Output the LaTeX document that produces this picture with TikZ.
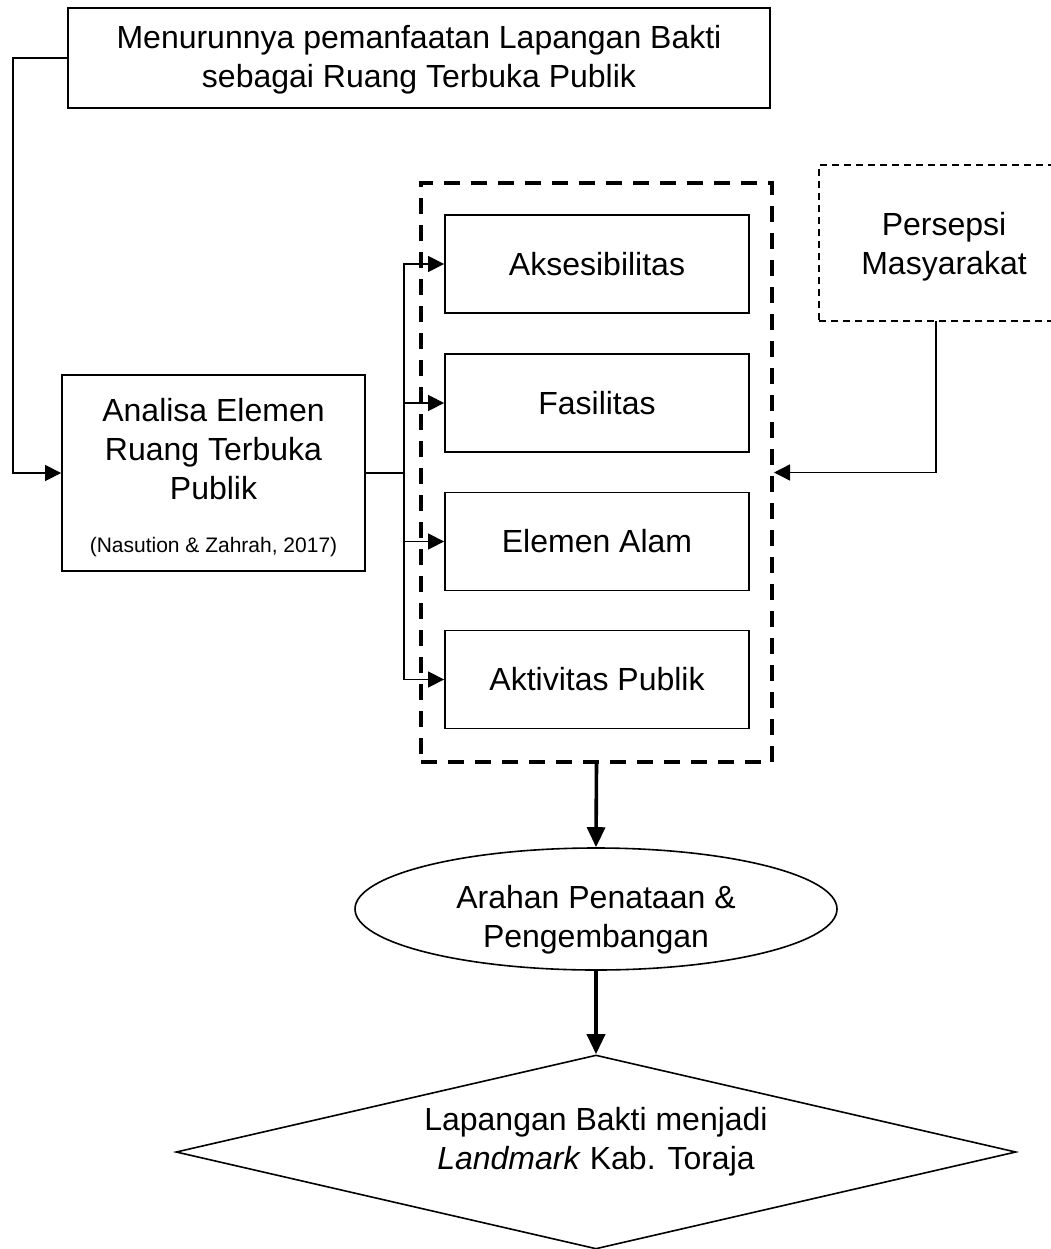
\documentclass[tikz,border=0pt]{standalone}
\usepackage{fontspec}
\setmainfont{Liberation Sans}
\usetikzlibrary{shapes.geometric,arrows.meta}
\tikzset{
  mainfont/.style={font=\fontsize{32}{39}\selectfont},
  smallfont/.style={font=\fontsize{21}{25}\selectfont},
  box/.style={draw, line width=1.8pt, rectangle, inner sep=0pt},
  txt/.style={mainfont, align=center, inner sep=0pt},
  conn/.style={line width=1.4pt, -{Triangle[length=16pt,width=16pt]}},
  plainconn/.style={line width=1.4pt},
  thickconn/.style={line width=3.6pt, -{Triangle[length=20pt,width=18pt]}},
  groupbox/.style={draw, line width=4pt, dash pattern=on 16pt off 11pt, inner sep=0pt},
  dashbox/.style={draw, line width=1.5pt, dash pattern=on 7pt off 5pt, inner sep=0pt},
}
\begin{document}
\begin{tikzpicture}[x=1pt,y=-1pt]
\clip (0,0) rectangle (1051,1249);
\fill[white] (0,0) rectangle (1051,1249);

% top box
\node[box, minimum width=702pt, minimum height=100pt] (top) at (419,58) {};
\node[txt] (topt) at (419,60) {Menurunnya pemanfaatan Lapangan Bakti\\sebagai Ruang Terbuka Publik};

% analisa box
\node[box, minimum width=303pt, minimum height=196pt] (analisa) at (213.5,473) {};
\node[txt] (analisat) at (213.5,449) {Analisa Elemen\\Ruang Terbuka\\Publik};
\node[smallfont, inner sep=0pt] (cite) at (213.5,547) {(Nasution \& Zahrah, 2017)};

% group dashed box
\node[groupbox, minimum width=351pt, minimum height=579pt] (group) at (596.5,472.5) {};

% inner boxes
\node[box, minimum width=304pt, minimum height=98pt, mainfont] (akses) at (597,264) {Aksesibilitas};
\node[box, minimum width=304pt, minimum height=98pt, mainfont] (fasil) at (597,403) {Fasilitas};
\node[box, minimum width=304pt, minimum height=98pt, mainfont] (alam) at (597,541.5) {Elemen Alam};
\node[box, minimum width=304pt, minimum height=98pt, mainfont] (aktiv) at (597,679.5) {Aktivitas Publik};

% persepsi
\node[dashbox, minimum width=250pt, minimum height=156pt] (persepsi) at (944,243) {};
\node[txt] (persepsit) at (944,247) {Persepsi\\Masyarakat};

% ellipse
\node[draw, ellipse, line width=1.6pt, minimum width=482pt, minimum height=122pt, inner sep=0pt] (arahan) at (596,909) {};
\node[txt] (arahant) at (596,920) {Arahan Penataan \&\\Pengembangan};

% diamond
\node[draw, diamond, line width=1.6pt, minimum width=840pt, minimum height=194pt, inner sep=0pt] (landmark) at (596,1152) {};
\node[txt] (landmarkt) at (596,1142) {Lapangan Bakti menjadi\\\textit{Landmark} Kab. Toraja};

% connectors
\coordinate (ltop) at (13,58);
\coordinate (jn) at (404,473);
\coordinate (pdrop) at (936,321);
\draw[conn] (top.west) -- (ltop) |- (analisa.west);
\draw[plainconn] (analisa.east) -- (jn);
\draw[conn] (jn) |- (akses.west);
\draw[conn] (jn) |- (fasil.west);
\draw[conn] (jn) |- (alam.west);
\draw[conn] (jn) |- (aktiv.west);
\draw[conn] (pdrop) |- (group.east);
\draw[thickconn] (group.south) -- (arahan.north);
\draw[thickconn] (arahan.south) -- (landmark.north);
\end{tikzpicture}
\end{document}
